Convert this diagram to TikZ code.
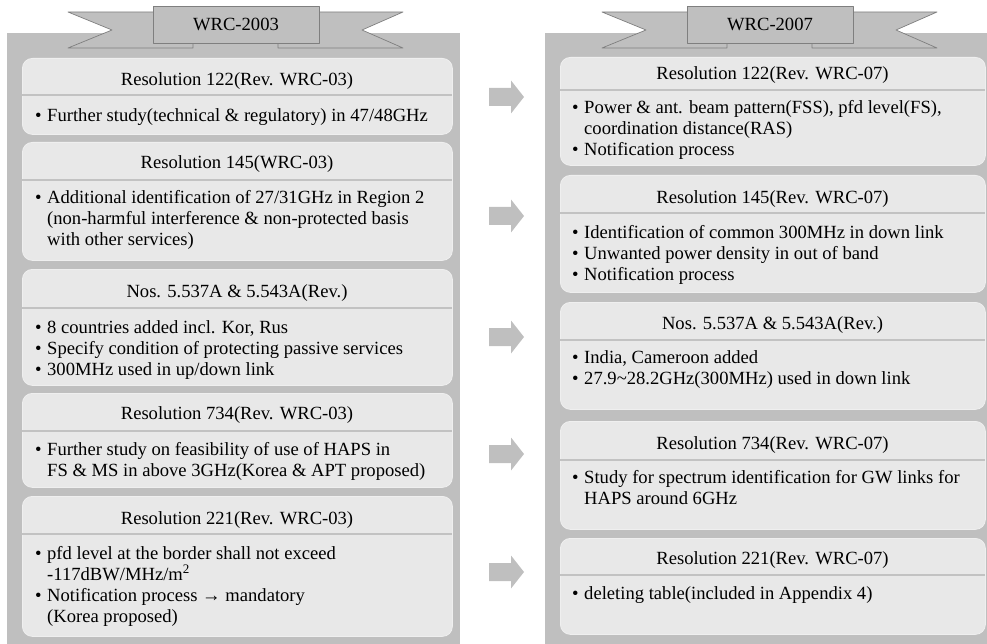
\documentclass[tikz,border=0pt]{standalone}
\usepackage{fontspec}
\setmainfont{Liberation Serif}
\usetikzlibrary{calc}
\definecolor{panelgray}{HTML}{BFBFBF}
\definecolor{boxgray}{HTML}{E8E8E8}
\definecolor{rimgray}{HTML}{7F7F7F}
\definecolor{sepgray}{HTML}{C2C2C2}
\definecolor{edgegray}{HTML}{EFEFEF}
\newcommand\bul{\makebox[12pt][l]{\textbullet}}
\newcommand\hang{\hspace*{12pt}}
\newcommand\resbox[8]{%
  \node[rbox, minimum width={#3-#2}, minimum height={#5-#4}, anchor=north west] (#1) at (#2,#4) {};
  \draw[sepline] (#2,#6) -- (#3,#6);
  \node[hdr, anchor=base] (#1h) at ({(#2+#3)/2},#7) {#8};
}
\newcommand\blockarrow[2]{%
  \fill[panelgray] (489,#2) ++(0,-9) coordinate (#1) -- ++(22,0) -- ++(0,-7.5) -- ++(13,16.5) -- ++(-13,16.5) -- ++(0,-7.5) -- ++(-22,0) -- cycle;
}
\tikzset{
  rbox/.style={rectangle, rounded corners=10pt, fill=boxgray, draw=edgegray, line width=0.8pt, inner sep=0pt},
  sepline/.style={draw=sepgray, line width=2.5pt},
  hdr/.style={font=\fontsize{18.6}{21}\selectfont, inner sep=0pt},
  body/.style={font=\fontsize{18.6}{21}\selectfont, align=left, inner sep=0pt, anchor=base west},
  ribbon/.style={fill=panelgray, draw=rimgray, line width=0.7pt, line join=round},
}
\begin{document}
\begin{tikzpicture}[x=1pt,y=-1pt]
\useasboundingbox (0,0) rectangle (987,644);
% panels
\fill[panelgray] (7,33) rectangle (460,644);
\fill[panelgray] (545,33) rectangle (987,644);
% banners
\foreach \dx/\lab/\nm in {0/WRC-2003/ban1, 534/WRC-2007/ban2}{
  \begin{scope}[xshift=\dx pt]
    \draw[ribbon] (68,12) -- (193,12) -- (193,48) -- (68,48) -- (112,30) -- cycle;
    \draw[ribbon] (403,12) -- (278,12) -- (278,48) -- (403,48) -- (362,30) -- cycle;
    \node[ribbon, rectangle, minimum width=166pt, minimum height=37pt, inner sep=0pt,
          font=\fontsize{18.6}{21}\selectfont] (\nm) at (236,24.5) {\lab};
  \end{scope}
}
% left boxes (body nodes are anchored at the baseline of their last line)
\resbox{L1}{22}{452}{58}{134}{95}{86}{Resolution 122(Rev. WRC-03)}
\node[body] (L1b) at (35,122) {\bul Further study(technical \& regulatory) in 47/48GHz};
\resbox{L2}{22}{452}{142}{260}{180}{169}{Resolution 145(WRC-03)}
\node[body] (L2b) at (35,246) {\bul Additional identification of 27/31GHz in Region 2\\
\hang(non-harmful interference \& non-protected basis\\
\hang with other services)};
\resbox{L3}{22}{452}{269}{385}{308}{297}{Nos. 5.537A \& 5.543A(Rev.)}
\node[body] (L3b) at (35,375) {\bul 8 countries added incl. Kor, Rus\\
\bul Specify condition of protecting passive services\\
\bul 300MHz used in up/down link};
\resbox{L4}{22}{452}{393}{487}{431}{419}{Resolution 734(Rev. WRC-03)}
\node[body] (L4b) at (35,476) {\bul Further study on feasibility of use of HAPS in\\
\hang FS \& MS in above 3GHz(Korea \& APT proposed)};
\resbox{L5}{22}{452}{496}{636}{534}{524}{Resolution 221(Rev. WRC-03)}
\node[body] (L5b) at (35,622) {\bul pfd level at the border shall not exceed\\
\hang -117dBW/MHz/m\textsuperscript{2}\\
\bul Notification process → mandatory\\
\hang(Korea proposed)};
% right boxes
\resbox{R1}{560}{985}{57}{165}{90}{80}{Resolution 122(Rev. WRC-07)}
\node[body] (R1b) at (572,156) {\bul Power \& ant. beam pattern(FSS), pfd level(FS),\\
\hang coordination distance(RAS)\\
\bul Notification process};
\resbox{R2}{560}{985}{175}{292}{213}{204}{Resolution 145(Rev. WRC-07)}
\node[body] (R2b) at (572,280) {\bul Identification of common 300MHz in down link\\
\bul Unwanted power density in out of band\\
\bul Notification process};
\resbox{R3}{560}{985}{302}{409}{340}{329}{Nos. 5.537A \& 5.543A(Rev.)}
\node[body] (R3b) at (572,384) {\bul India, Cameroon added\\
\bul 27.9{\char"7E}28.2GHz(300MHz) used in down link};
\resbox{R4}{560}{985}{421}{529}{460}{449}{Resolution 734(Rev. WRC-07)}
\node[body] (R4b) at (572,504) {\bul Study for spectrum identification for GW links for\\
\hang HAPS around 6GHz};
\resbox{R5}{560}{985}{538}{634}{575}{564}{Resolution 221(Rev. WRC-07)}
\node[body] (R5b) at (572,599) {\bul deleting table(included in Appendix 4)};
% arrows
\blockarrow{a1}{97}
\blockarrow{a2}{216}
\blockarrow{a3}{337}
\blockarrow{a4}{454}
\blockarrow{a5}{572}
\end{tikzpicture}
\end{document}
